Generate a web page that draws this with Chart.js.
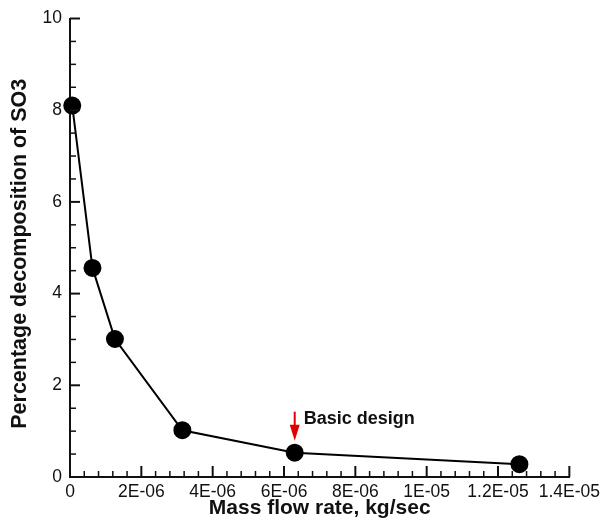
<!DOCTYPE html>
<html>
<head>
<meta charset="utf-8">
<script src="https://cdn.jsdelivr.net/npm/chart.js@4/dist/chart.umd.min.js"></script>
<style>
  html, body { margin: 0; padding: 0; background: #fff; }
  #wrap { width: 605px; height: 521px; }
</style>
</head>
<body>
<div id="wrap"><canvas id="myChart" width="605" height="521"></canvas></div>
<script>
// values
const massFlow = [6.3e-8, 6.3e-7, 1.26e-6, 3.15e-6, 6.3e-6, 1.26e-5];
const decomposition = [8.1, 4.56, 3.01, 1.02, 0.53, 0.28];

const xTickValues = [0, 2e-6, 4e-6, 6e-6, 8e-6, 1e-5, 1.2e-5, 1.4e-5];
const xTickLabels = ["0", "2E-06", "4E-06", "6E-06", "8E-06", "1E-05", "1.2E-05", "1.4E-05"];
const yTickValues = [0, 2, 4, 6, 8, 10];
const yTickLabels = ["0", "2", "4", "6", "8", "10"];

const basicDesignIndex = 4;
const basicDesignLabel = "Basic design";
const yTitle = "Percentage decomposition of SO3";

const fontFamily = "'Liberation Sans', Arial, sans-serif";

// tick marks pointing into the plot, majors and minors
const insideTicks = {
  id: "insideTicks",
  afterDraw(chart) {
    const ctx = chart.ctx;
    const x = chart.scales.x, y = chart.scales.y;
    const left = chart.chartArea.left, bottom = chart.chartArea.bottom;
    ctx.save();
    ctx.strokeStyle = "#111";
    // x axis
    for (let i = 0; i < xTickValues.length; i++) {
      const px = x.getPixelForValue(xTickValues[i]);
      ctx.lineWidth = 2;
      ctx.beginPath(); ctx.moveTo(px, bottom); ctx.lineTo(px, bottom - 11); ctx.stroke();
      if (i < xTickValues.length - 1) {
        const step = (xTickValues[i + 1] - xTickValues[i]) / 5;
        ctx.lineWidth = 1.5;
        for (let k = 1; k < 5; k++) {
          const mx = x.getPixelForValue(xTickValues[i] + step * k);
          ctx.beginPath(); ctx.moveTo(mx, bottom); ctx.lineTo(mx, bottom - 6); ctx.stroke();
        }
      }
    }
    // y axis
    for (let i = 0; i < yTickValues.length; i++) {
      const py = y.getPixelForValue(yTickValues[i]);
      ctx.lineWidth = 2;
      ctx.beginPath(); ctx.moveTo(left, py); ctx.lineTo(left + 10, py); ctx.stroke();
      if (i < yTickValues.length - 1) {
        const step = (yTickValues[i + 1] - yTickValues[i]) / 4;
        ctx.lineWidth = 1.5;
        for (let k = 1; k < 4; k++) {
          const my = y.getPixelForValue(yTickValues[i] + step * k);
          ctx.beginPath(); ctx.moveTo(left, my); ctx.lineTo(left + 6, my); ctx.stroke();
        }
      }
    }
    // y title, sits a little below the middle of the axis
    const area = chart.chartArea;
    ctx.translate(20, (area.top + area.bottom) / 2 + 6);
    ctx.rotate(-Math.PI / 2);
    ctx.fillStyle = "#111";
    ctx.font = "bold 21.5px " + fontFamily;
    ctx.textAlign = "center";
    ctx.textBaseline = "middle";
    ctx.fillText(yTitle, 0, 0);
    ctx.restore();
  }
};

// red arrow + label over the basic design point
const basicDesign = {
  id: "basicDesign",
  afterDatasetsDraw(chart) {
    const ctx = chart.ctx;
    const px = chart.scales.x.getPixelForValue(massFlow[basicDesignIndex]);
    const py = chart.scales.y.getPixelForValue(decomposition[basicDesignIndex]);
    ctx.save();
    ctx.strokeStyle = "#e00000";
    ctx.fillStyle = "#e00000";
    ctx.lineWidth = 2;
    ctx.beginPath(); ctx.moveTo(px, py - 41); ctx.lineTo(px, py - 26); ctx.stroke();
    ctx.beginPath();
    ctx.moveTo(px - 5, py - 28);
    ctx.lineTo(px + 5, py - 28);
    ctx.lineTo(px, py - 12);
    ctx.closePath();
    ctx.fill();
    ctx.fillStyle = "#111";
    ctx.font = "bold 18px " + fontFamily;
    ctx.textBaseline = "alphabetic";
    ctx.fillText(basicDesignLabel, px + 9, py - 29);
    ctx.restore();
  }
};

const ctx = document.getElementById("myChart").getContext("2d");
const chart = new Chart(ctx, {
  type: "line",
  data: {
    datasets: [
      {
        data: massFlow.map((m, i) => ({ x: m, y: decomposition[i] })),
        borderColor: "#000",
        borderWidth: 2,
        backgroundColor: "#000",
        pointBackgroundColor: "#000",
        pointBorderColor: "#000",
        pointRadius: 8,
        pointHoverRadius: 8,
        tension: 0,
        clip: false,
      },
    ],
  },
  options: {
    responsive: false,
    animation: false,
    events: [],
    layout: { padding: { top: 16, right: 30, left: 0, bottom: 0 } },
    plugins: { legend: { display: false }, tooltip: { enabled: false } },
    scales: {
      x: {
        type: "linear",
        min: 0,
        max: 1.4e-5,
        afterBuildTicks: (s) => { s.ticks = xTickValues.map((v) => ({ value: v })); },
        afterFit: (s) => { s.height = 44; },
        grid: { display: false, drawTicks: false },
        border: { display: true, color: "#111", width: 2 },
        ticks: {
          padding: 5,
          maxRotation: 0,
          autoSkip: false,
          color: "#111",
          font: { family: fontFamily, size: 17.5 },
          callback: (v, i) => xTickLabels[i],
        },
        title: {
          display: true,
          text: "Mass flow rate, kg/sec",
          color: "#111",
          font: { family: fontFamily, size: 21, weight: "bold" },
          padding: { top: 0, bottom: 0 },
        },
      },
      y: {
        type: "linear",
        min: 0,
        max: 10,
        afterBuildTicks: (s) => { s.ticks = yTickValues.map((v) => ({ value: v })); },
        afterFit: (s) => { s.width = 70; },
        grid: { display: false, drawTicks: false },
        border: { display: true, color: "#111", width: 2 },
        ticks: {
          padding: 8,
          autoSkip: false,
          color: "#111",
          font: { family: fontFamily, size: 17.5 },
          callback: (v, i) => yTickLabels[i],
        },
        title: { display: false },
      },
    },
  },
  plugins: [insideTicks, basicDesign],
});
</script>
</body>
</html>
